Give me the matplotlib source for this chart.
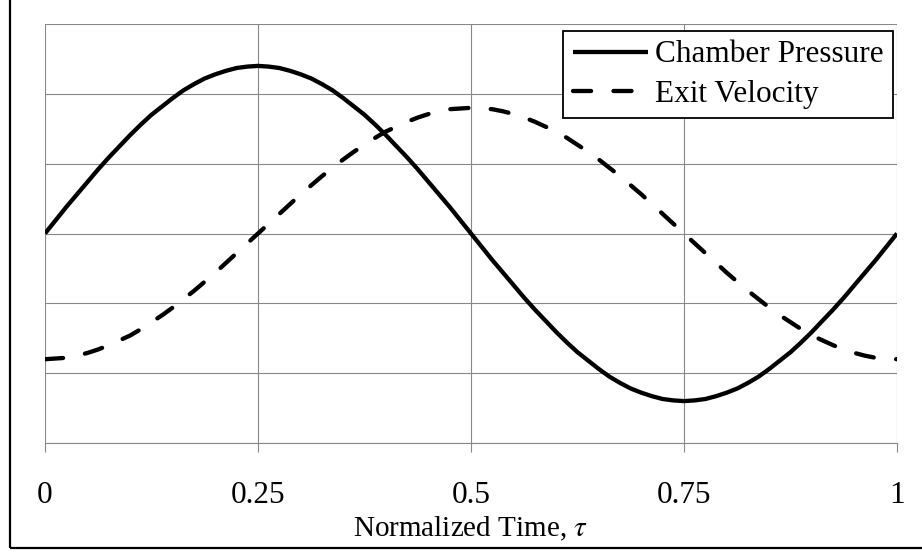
import numpy as np
from matplotlib import pyplot as plt
from matplotlib.patches import Rectangle

plt.rcParams['font.family'] = ['Liberation Serif', 'DejaVu Serif']
plt.rcParams['mathtext.fontset'] = 'stix'

# normalized time, one full cycle
tau = np.linspace(0, 1, 81)

pressure = [0.00, 0.19, 0.38, 0.56, 0.74, 0.92, 1.09, 1.25, 1.41, 1.56,
            1.70, 1.82, 1.94, 2.05, 2.14, 2.22, 2.28, 2.33, 2.37, 2.39,
            2.40, 2.39, 2.37, 2.33, 2.28, 2.22, 2.14, 2.05, 1.94, 1.82,
            1.70, 1.56, 1.41, 1.25, 1.09, 0.92, 0.74, 0.56, 0.38, 0.19,
            0.00, -0.19, -0.38, -0.56, -0.74, -0.92, -1.09, -1.25, -1.41, -1.56,
            -1.70, -1.82, -1.94, -2.05, -2.14, -2.22, -2.28, -2.33, -2.37, -2.39,
            -2.40, -2.39, -2.37, -2.33, -2.28, -2.22, -2.14, -2.05, -1.94, -1.82,
            -1.70, -1.56, -1.41, -1.25, -1.09, -0.92, -0.74, -0.56, -0.38, -0.19,
            0.00]

velocity = [-1.80, -1.79, -1.78, -1.75, -1.71, -1.66, -1.60, -1.53, -1.46, -1.37,
            -1.27, -1.17, -1.06, -0.94, -0.82, -0.69, -0.56, -0.42, -0.28, -0.14,
            0.00, 0.14, 0.28, 0.42, 0.56, 0.69, 0.82, 0.94, 1.06, 1.17,
            1.27, 1.37, 1.46, 1.53, 1.60, 1.66, 1.71, 1.75, 1.78, 1.79,
            1.80, 1.79, 1.78, 1.75, 1.71, 1.66, 1.60, 1.53, 1.46, 1.37,
            1.27, 1.17, 1.06, 0.94, 0.82, 0.69, 0.56, 0.42, 0.28, 0.14,
            0.00, -0.14, -0.28, -0.42, -0.56, -0.69, -0.82, -0.94, -1.06, -1.17,
            -1.27, -1.37, -1.46, -1.53, -1.60, -1.66, -1.71, -1.75, -1.78, -1.79,
            -1.80]

xticks = [0, 0.25, 0.5, 0.75, 1]
xticklabels = ['0', '0.25', '0.5', '0.75', '1']

grid_col = '#888888'

fig = plt.figure(figsize=(9.22, 5.52), dpi=100)
ax = fig.add_axes([45/922, 1 - 443/552, 852/922, 419/552])

ax.plot(tau, pressure, color='black', lw=3.1, solid_joinstyle='round',
        solid_capstyle='butt', label='Chamber Pressure', zorder=3)
ax.plot(tau, velocity, color='black', lw=3.1, dashes=(4.2, 5.2),
        dash_capstyle='round', label='Exit Velocity', zorder=3)

ax.set_xlim(0, 1)
ax.set_ylim(-3, 3)
ax.set_xticks(xticks)
ax.set_xticklabels(xticklabels, fontsize=22.5)
ax.set_yticks(np.arange(-3, 4, 1))
ax.tick_params(axis='y', left=False, labelleft=False)
ax.tick_params(axis='x', direction='out', length=6.5, width=0.8,
               color=grid_col, pad=21)
ax.grid(True, color=grid_col, lw=0.8)
for s in ['left', 'right', 'top']:
    ax.spines[s].set_visible(False)
ax.spines['bottom'].set_color(grid_col)
ax.spines['bottom'].set_linewidth(0.8)

ax.set_xlabel('Normalized Time, $\\tau$', fontsize=21, labelpad=3)

leg = ax.legend(loc='upper right', bbox_to_anchor=(0.995, 0.983),
                borderaxespad=0, fontsize=22.5, fancybox=False, framealpha=1,
                edgecolor='black', handlelength=2.4, handletextpad=0.22,
                borderpad=0.3, labelspacing=0.33)
leg.get_frame().set_linewidth(1.3)

# outer frame around the chart area
fig.patches.append(Rectangle((9.5/922, 4/552), 1.0, 1.0, transform=fig.transFigure,
                             fill=False, edgecolor='black', lw=1.6))

fig.savefig('out.png', dpi=100)
